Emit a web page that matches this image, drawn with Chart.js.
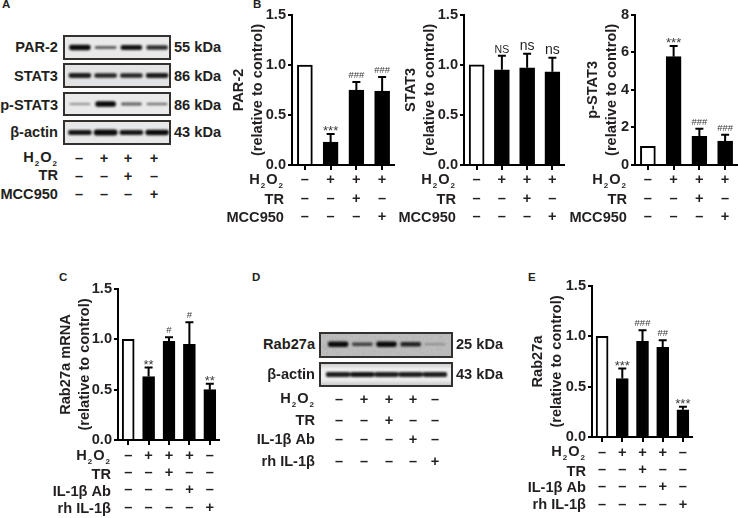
<!DOCTYPE html>
<html>
<head>
<meta charset="utf-8">
<title>Western blots and densitometry</title>
<script src="https://cdn.jsdelivr.net/npm/chart.js@4"></script>
<style>
    html, body { margin: 0; padding: 0; background: #fff; }
    #page { position: relative; width: 738px; height: 518px; overflow: hidden;
            font-family: "Liberation Sans", Arial, sans-serif; color: #231f20; }
    #page canvas { position: absolute; display: block; }
    .txt { position: absolute; font-weight: bold; font-size: 14.6px; line-height: 18px; white-space: nowrap; }
    .txt sub { font-size: 8px; line-height: 0; vertical-align: -4px; margin: 0 1px; }
    .panel { font-size: 11.5px; line-height: 12px; }
    .blot { position: absolute; box-sizing: border-box; border: 2px solid #33302e; overflow: hidden; }
</style>
</head>
<body>
<div id="page"></div>
<script>
// Treatment rows, top figure
const h2o2Top = ['–', '+', '+', '+'];
const trTop = ['–', '–', '+', '–'];
const mccTop = ['–', '–', '–', '+'];

// Treatment rows, bottom figures
const h2o2Low = ['–', '+', '+', '+', '–'];
const trLow = ['–', '–', '+', '–', '–'];
const abLow = ['–', '–', '–', '+', '–'];
const rhLow = ['–', '–', '–', '–', '+'];

// Bar values, upward error and significance marks
const par2Mean = [1, 0.23, 0.75, 0.74];
const par2Err = [0, 0.08, 0.08, 0.14];
const par2Sig = ['', '***', '###', '###'];

const stat3Mean = [1, 0.95, 0.97, 0.93];
const stat3Err = [0, 0.14, 0.14, 0.14];
const stat3Sig = ['', 'NS', 'ns', 'ns'];

const pstat3Mean = [1, 5.77, 1.52, 1.27];
const pstat3Err = [0, 0.57, 0.41, 0.34];
const pstat3Sig = ['', '***', '###', '###'];

const mrnaMean = [1, 0.63, 0.98, 0.95, 0.5];
const mrnaErr = [0, 0.09, 0.04, 0.22, 0.06];
const mrnaSig = ['', '**', '#', '#', '**'];

const rabMean = [1, 0.58, 0.95, 0.89, 0.27];
const rabErr = [0, 0.1, 0.11, 0.07, 0.03];
const rabSig = ['', '***', '###', '##', '***'];

// Band strength per lane on the blots
const par2Bands = [0.95, 0.5, 0.9, 0.75];
const stat3Bands = [0.85, 0.8, 0.8, 0.85];
const pstat3Bands = [0.25, 1.05, 0.5, 0.38];
const actinBands = [0.9, 1.05, 0.88, 0.95];
const rabBands = [1, 0.6, 1, 0.8, 0.2];
const actinBandsLow = [0.85, 0.9, 0.85, 0.85, 0.85];

const page = document.getElementById('page');
const INK = '#231f20';
const FONT = '"Liberation Sans", Arial, sans-serif';
const GRAIN = 'url("data:image/svg+xml,%3Csvg xmlns=\'http://www.w3.org/2000/svg\' width=\'140\' height=\'30\'%3E%3Cfilter id=\'n\'%3E%3CfeTurbulence baseFrequency=\'0.5\' numOctaves=\'2\'/%3E%3CfeColorMatrix type=\'saturate\' values=\'0\'/%3E%3C/filter%3E%3Crect width=\'140\' height=\'30\' filter=\'url(%23n)\' opacity=\'0.22\'/%3E%3C/svg%3E")';

function addText(html, x, y, side, cls) {
    const el = document.createElement('div');
    el.className = 'txt' + (cls ? ' ' + cls : '');
    el.innerHTML = html;
    el.style.top = (y - 9) + 'px';
    if (side === 'right') el.style.right = (738 - x) + 'px';
    else if (side === 'center') { el.style.left = x + 'px'; el.style.transform = 'translateX(-50%)'; }
    else el.style.left = x + 'px';
    page.appendChild(el);
}

function addCanvas(left, top, width, height) {
    const c = document.createElement('canvas');
    c.width = width;
    c.height = height;
    c.style.left = left + 'px';
    c.style.top = top + 'px';
    return c;
}

// Error whiskers and the significance marks above them
const whiskers = {
    id: 'whiskers',
    afterDatasetsDraw(chart) {
        const { ctx, scales: { x, y } } = chart;
        const ds = chart.data.datasets[0];
        ctx.save();
        ds.data.forEach((v, i) => {
            const px = x.getPixelForValue(i);
            const top = y.getPixelForValue(v + ds.errors[i]);
            if (ds.errors[i] > 0) {
                ctx.strokeStyle = '#000';
                ctx.lineWidth = 2;
                ctx.beginPath();
                ctx.moveTo(px, y.getPixelForValue(v));
                ctx.lineTo(px, top);
                ctx.moveTo(px - 4, top);
                ctx.lineTo(px + 4, top);
                ctx.stroke();
            }
            const mark = ds.marks[i];
            if (!mark) return;
            ctx.textAlign = 'center';
            ctx.textBaseline = 'alphabetic';
            ctx.fillStyle = '#3a3a3a';
            if (mark[0] === '*') {
                ctx.font = '13px ' + FONT;
                ctx.fillText(mark, px, top + 1);
            } else if (mark[0] === '#') {
                ctx.font = '9.5px ' + FONT;
                ctx.fillText(mark, px, top - 4);
            } else if (mark === 'NS') {
                ctx.font = '10.5px ' + FONT;
                ctx.fillStyle = INK;
                ctx.fillText(mark, px, top - 3);
            } else {
                ctx.font = '14px ' + FONT;
                ctx.fillStyle = INK;
                ctx.fillText(mark, px, top - 4);
            }
        });
        ctx.restore();
    }
};

function barPanel(cfg) {
    const width = cfg.right - cfg.left;
    const height = cfg.bottom - cfg.top;
    const canvas = addCanvas(cfg.left, cfg.top, width, height);
    page.appendChild(canvas);
    const labels = cfg.rows[0].map((_, i) => cfg.rows.map(r => r[i]));
    return new Chart(canvas, {
        type: 'bar',
        data: {
            labels,
            datasets: [{
                data: cfg.mean,
                errors: cfg.err,
                marks: cfg.sig,
                backgroundColor: cfg.mean.map((_, i) => i === 0 ? '#fff' : '#000'),
                borderColor: '#000',
                borderWidth: 2,
                borderSkipped: 'bottom',
                barThickness: cfg.barWidth
            }]
        },
        options: {
            responsive: false,
            animation: false,
            layout: { padding: { top: cfg.y1 - cfg.top, left: 0, right: 0, bottom: 0 } },
            plugins: { legend: { display: false }, tooltip: { enabled: false } },
            scales: {
                x: {
                    afterFit: s => { s.height = cfg.bottom - cfg.y0; },
                    grid: { offset: false, drawOnChartArea: false, color: '#000', lineWidth: 2, tickLength: 5 },
                    border: { color: '#000', width: 2 },
                    ticks: {
                        autoSkip: false, maxRotation: 0, minRotation: 0, padding: cfg.rowPad, color: INK,
                        font: { family: FONT, size: 14.6, weight: 'bold', lineHeight: cfg.rowGap + 'px' }
                    }
                },
                y: {
                    min: 0,
                    max: cfg.max,
                    afterFit: s => { s.width = cfg.axis - cfg.left; },
                    afterBuildTicks: s => { s.ticks = cfg.ticks.map(value => ({ value })); },
                    grid: { drawOnChartArea: false, color: '#000', lineWidth: 2, tickLength: 4 },
                    border: { color: '#000', width: 2 },
                    title: {
                        display: true,
                        text: cfg.title,
                        color: INK,
                        padding: 0,
                        font: { family: FONT, size: 14.6, weight: 'bold', lineHeight: '19px' }
                    },
                    ticks: {
                        padding: 2, color: INK,
                        callback: v => cfg.max === 8 ? String(v) : v.toFixed(1),
                        font: { family: FONT, size: 14.6, weight: 'bold' }
                    }
                }
            }
        },
        plugins: [whiskers]
    });
}

// One membrane: lanes sit on a category scale, band darkness and thickness follow the value
function blot(cfg) {
    const box = document.createElement('div');
    box.className = 'blot';
    box.style.left = cfg.boxLeft + 'px';
    box.style.top = cfg.boxTop + 'px';
    box.style.width = cfg.boxWidth + 'px';
    box.style.height = cfg.boxHeight + 'px';
    box.style.background = cfg.bg;
    page.appendChild(box);
    const canvas = addCanvas(cfg.laneLeft - cfg.boxLeft - 2, -2, cfg.laneWidth, cfg.boxHeight);
    canvas.style.filter = 'blur(1.1px)';
    box.appendChild(canvas);
    new Chart(canvas, {
        type: 'bar',
        data: {
            labels: cfg.bands.map((_, i) => 'lane ' + (i + 1)),
            datasets: [{
                data: cfg.bands.map(v => [-v, v]),
                backgroundColor: cfg.bands.map(v => `rgba(10,10,10,${Math.min(1, 0.2 + v * 0.85)})`),
                barThickness: cfg.bandWidth,
                borderRadius: 3,
                borderSkipped: false
            }]
        },
        options: {
            responsive: false,
            animation: false,
            plugins: { legend: { display: false }, tooltip: { enabled: false } },
            layout: { padding: 0 },
            scales: {
                x: { display: false },
                y: { display: false, min: -cfg.yRange + cfg.shift, max: cfg.yRange + cfg.shift }
            }
        }
    });
}

// Panel A
addText('A', 2, 7, 'left', 'panel');
blot({ boxLeft: 63, boxTop: 35, boxWidth: 108, boxHeight: 25, bg: '#e9e9e9', laneLeft: 67, laneWidth: 103, bands: par2Bands, bandWidth: 21, yRange: 5, shift: 0 });
blot({ boxLeft: 63, boxTop: 63, boxWidth: 108, boxHeight: 25, bg: '#e4e4e4', laneLeft: 67, laneWidth: 103, bands: stat3Bands, bandWidth: 22, yRange: 5, shift: 0 });
blot({ boxLeft: 63, boxTop: 92, boxWidth: 108, boxHeight: 24, bg: '#eaeaea', laneLeft: 67, laneWidth: 103, bands: pstat3Bands, bandWidth: 20, yRange: 5, shift: 0 });
blot({ boxLeft: 63, boxTop: 120, boxWidth: 108, boxHeight: 25, bg: '#e8e8e8', laneLeft: 67, laneWidth: 103, bands: actinBands, bandWidth: 23, yRange: 5, shift: 0 });
addText('PAR-2', 58, 47, 'right');
addText('STAT3', 58, 76, 'right');
addText('p-STAT3', 58, 105, 'right');
addText('β-actin', 58, 132, 'right');
addText('55 kDa', 174, 47);
addText('86 kDa', 174, 76);
addText('86 kDa', 174, 105);
addText('43 kDa', 174, 132);
addText('H<sub>2</sub>O<sub>2</sub>', 58, 157, 'right');
addText('TR', 58, 175, 'right');
addText('MCC950', 58, 194, 'right');
const lanesA = [79, 104, 128, 154];
[[h2o2Top, 158], [trTop, 176], [mccTop, 194]].forEach(([row, y]) => {
    row.forEach((s, i) => addText(s, lanesA[i], y, 'center'));
});

// Panel B
addText('B', 253, 7, 'left', 'panel');
const topRows = [h2o2Top, trTop, mccTop];
barPanel({ left: 229, right: 395, top: 4, bottom: 232, axis: 292, y1: 15, y0: 165, max: 1.5, ticks: [0, 0.5, 1, 1.5],
    mean: par2Mean, err: par2Err, sig: par2Sig, rows: topRows, title: ['PAR-2', '(relative to control)'], barWidth: 15, rowGap: 18.5, rowPad: 1 });
barPanel({ left: 401, right: 565, top: 4, bottom: 232, axis: 464, y1: 14, y0: 165, max: 1.5, ticks: [0, 0.5, 1, 1.5],
    mean: stat3Mean, err: stat3Err, sig: stat3Sig, rows: topRows, title: ['STAT3', '(relative to control)'], barWidth: 15, rowGap: 18.5, rowPad: 1 });
barPanel({ left: 583, right: 738, top: 4, bottom: 232, axis: 635, y1: 14, y0: 165, max: 8, ticks: [0, 2, 4, 6, 8],
    mean: pstat3Mean, err: pstat3Err, sig: pstat3Sig, rows: topRows, title: ['p-STAT3', '(relative to control)'], barWidth: 15, rowGap: 18.5, rowPad: 1 });
[284, 456, 627].forEach(x => {
    addText('H<sub>2</sub>O<sub>2</sub>', x, 179, 'right');
    addText('TR', x, 199, 'right');
    addText('MCC950', x, 217, 'right');
});

// Panel C and E
const lowRows = [h2o2Low, trLow, abLow, rhLow];
addText('C', 59, 280, 'left', 'panel');
barPanel({ left: 56, right: 220, top: 278, bottom: 518, axis: 118, y1: 289, y0: 440, max: 1.5, ticks: [0, 0.5, 1, 1.5],
    mean: mrnaMean, err: mrnaErr, sig: mrnaSig, rows: lowRows, title: ['Rab27a mRNA', '(relative to control)'], barWidth: 12, rowGap: 17.3, rowPad: 2 });
addText('H<sub>2</sub>O<sub>2</sub>', 111, 455, 'right');
addText('TR', 111, 474, 'right');
addText('IL-1β Ab', 111, 491, 'right');
addText('rh IL-1β', 111, 508, 'right');

addText('E', 528, 280, 'left', 'panel');
barPanel({ left: 528, right: 693, top: 275, bottom: 518, axis: 592, y1: 286, y0: 437, max: 1.5, ticks: [0, 0.5, 1, 1.5],
    mean: rabMean, err: rabErr, sig: rabSig, rows: lowRows, title: ['Rab27a', '(relative to control)'], barWidth: 12, rowGap: 17.3, rowPad: 2 });
addText('H<sub>2</sub>O<sub>2</sub>', 586, 451, 'right');
addText('TR', 586, 471, 'right');
addText('IL-1β Ab', 586, 487, 'right');
addText('rh IL-1β', 586, 504, 'right');

// Panel D
addText('D', 252, 280, 'left', 'panel');
blot({ boxLeft: 319, boxTop: 332, boxWidth: 134, boxHeight: 26, bg: GRAIN + ', #bdbdbd', laneLeft: 326, laneWidth: 121, bands: rabBands, bandWidth: 20, yRange: 5.5, shift: -0.3 });
blot({ boxLeft: 319, boxTop: 362, boxWidth: 134, boxHeight: 25, bg: 'linear-gradient(#cfcfcf, #f0f0f0 25%, #eeeeee 75%, #cacaca)', laneLeft: 326, laneWidth: 121, bands: actinBandsLow, bandWidth: 24, yRange: 5, shift: 0 });
addText('Rab27a', 315, 344, 'right');
addText('β-actin', 315, 374, 'right');
addText('25 kDa', 456, 344);
addText('43 kDa', 456, 374);
addText('H<sub>2</sub>O<sub>2</sub>', 315, 398, 'right');
addText('TR', 315, 420, 'right');
addText('IL-1β Ab', 315, 439, 'right');
addText('rh IL-1β', 315, 461, 'right');
const lanesD = [339, 364, 389, 413, 435];
[[h2o2Low, 399], [trLow, 420], [abLow, 439], [rhLow, 461]].forEach(([row, y]) => {
    row.forEach((s, i) => addText(s, lanesD[i], y, 'center'));
});
</script>
</body>
</html>
